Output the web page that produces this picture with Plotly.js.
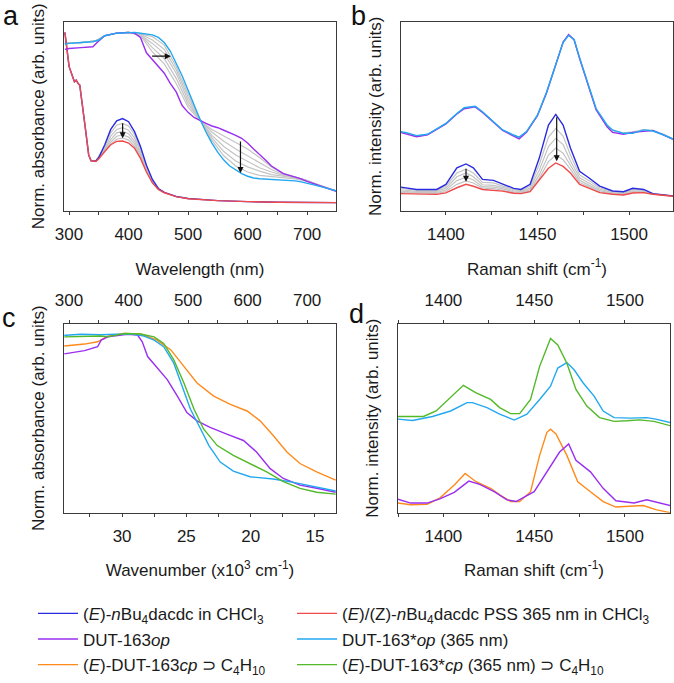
<!DOCTYPE html>
<html><head><meta charset="utf-8">
<script src="https://cdn.plot.ly/plotly-3.0.1.min.js"></script>
<style>html,body{margin:0;padding:0;background:#fff}</style>
</head><body><div id="chart" style="width:674px;height:683px"></div>
<script>
// ---------- Panel a : UV-vis, solution (lower) ----------
const wlSol = [293, 296, 300, 305, 309, 312, 315, 318, 322, 328, 333, 337, 345, 350, 360, 370, 380, 390, 400, 410, 420, 430, 440, 450, 460, 480, 500, 550, 600, 650, 750];
const absBlueA = [1.0, 0.90, 0.80, 0.75, 0.71, 0.72, 0.70, 0.69, 0.57, 0.42, 0.28, 0.246, 0.245, 0.265, 0.34, 0.43, 0.48, 0.494, 0.475, 0.417, 0.33, 0.22, 0.136, 0.083, 0.06, 0.036, 0.024, 0.012, 0.006, 0.002, 0.0];
const absRedA  = [1.0, 0.90, 0.80, 0.75, 0.71, 0.72, 0.70, 0.69, 0.57, 0.42, 0.28, 0.246, 0.242, 0.258, 0.30, 0.34, 0.36, 0.362, 0.35, 0.32, 0.26, 0.18, 0.116, 0.078, 0.058, 0.035, 0.023, 0.012, 0.006, 0.002, 0.0];
const wlSolGray = [345, 360, 370, 380, 390, 400, 410, 420, 430, 440, 450, 460];
const absSolGray = [
  [0.245, 0.33, 0.41, 0.455, 0.465, 0.45, 0.40, 0.315, 0.21, 0.13, 0.082, 0.06],
  [0.245, 0.32, 0.39, 0.43, 0.44, 0.425, 0.38, 0.30, 0.20, 0.127, 0.08, 0.06],
  [0.244, 0.315, 0.37, 0.41, 0.418, 0.405, 0.36, 0.29, 0.195, 0.123, 0.08, 0.059],
  [0.243, 0.31, 0.355, 0.39, 0.398, 0.385, 0.345, 0.28, 0.19, 0.12, 0.079, 0.059],
  [0.242, 0.305, 0.345, 0.372, 0.38, 0.367, 0.33, 0.27, 0.185, 0.118, 0.078, 0.058]
];
// ---------- Panel a : UV-vis, MOF (upper) ----------
const wlMof = [293, 300, 320, 340, 350, 360, 380, 400, 410, 420, 430, 440, 450, 460, 470, 480, 490, 500, 510, 520, 530, 540, 550, 560, 570, 580, 590, 600, 610, 620, 630, 640, 650, 660, 670, 680, 690, 700, 720, 740, 750];
const absPurpleA = [0.90, 0.905, 0.91, 0.915, 0.95, 0.98, 0.995, 1.0, 0.995, 0.97, 0.88, 0.84, 0.80, 0.76, 0.70, 0.65, 0.57, 0.53, 0.50, 0.48, 0.465, 0.45, 0.44, 0.425, 0.412, 0.395, 0.378, 0.35, 0.315, 0.285, 0.25, 0.215, 0.19, 0.17, 0.16, 0.15, 0.14, 0.125, 0.10, 0.078, 0.065];
const absCyanA = [0.93, 0.935, 0.94, 0.945, 0.955, 0.98, 0.995, 1.0, 1.0, 0.995, 0.99, 0.985, 0.97, 0.94, 0.89, 0.82, 0.745, 0.66, 0.57, 0.49, 0.415, 0.35, 0.295, 0.25, 0.215, 0.19, 0.17, 0.155, 0.145, 0.14, 0.138, 0.137, 0.135, 0.133, 0.13, 0.128, 0.122, 0.115, 0.097, 0.078, 0.068];
const wlMofGray = [293, 320, 345, 360, 380, 400, 420, 440, 460, 480, 500, 520, 540, 560, 580, 600, 620, 640, 660, 680, 700, 720, 750];
const absMofGray = [
  [0.935, 0.94, 0.95, 0.98, 0.995, 1.0, 0.99, 0.975, 0.925, 0.80, 0.64, 0.49, 0.365, 0.275, 0.215, 0.18, 0.16, 0.152, 0.148, 0.14, 0.125, 0.10, 0.068],
  [0.935, 0.94, 0.95, 0.98, 0.995, 1.0, 0.99, 0.955, 0.90, 0.78, 0.62, 0.49, 0.38, 0.30, 0.245, 0.21, 0.185, 0.165, 0.155, 0.145, 0.128, 0.102, 0.068],
  [0.935, 0.94, 0.95, 0.98, 0.995, 1.0, 0.985, 0.935, 0.875, 0.76, 0.60, 0.485, 0.395, 0.33, 0.28, 0.24, 0.205, 0.18, 0.16, 0.148, 0.13, 0.103, 0.068],
  [0.935, 0.94, 0.95, 0.98, 0.995, 1.0, 0.985, 0.91, 0.845, 0.73, 0.58, 0.485, 0.415, 0.36, 0.315, 0.275, 0.235, 0.195, 0.165, 0.15, 0.13, 0.103, 0.068],
  [0.935, 0.94, 0.95, 0.98, 0.995, 1.0, 0.98, 0.885, 0.815, 0.70, 0.56, 0.48, 0.43, 0.39, 0.35, 0.315, 0.265, 0.21, 0.172, 0.152, 0.13, 0.103, 0.068]
];
// ---------- Panel b : Raman, MOF (upper) ----------
const ramMof = [1375, 1379, 1384, 1390, 1395, 1400, 1406, 1410, 1416, 1420, 1426, 1431, 1437, 1440, 1444, 1450, 1455, 1460, 1464, 1467, 1470, 1473, 1478, 1482, 1488, 1491, 1497, 1502, 1508, 1513, 1519, 1524];
const intCyanB = [0.419, 0.412, 0.398, 0.405, 0.433, 0.462, 0.515, 0.545, 0.553, 0.524, 0.471, 0.428, 0.401, 0.39, 0.419, 0.506, 0.628, 0.768, 0.89, 0.928, 0.906, 0.81, 0.663, 0.541, 0.454, 0.428, 0.41, 0.41, 0.428, 0.422, 0.401, 0.38];
const intPurpleB = [0.415, 0.405, 0.392, 0.402, 0.43, 0.46, 0.512, 0.54, 0.55, 0.52, 0.468, 0.425, 0.395, 0.38, 0.415, 0.503, 0.625, 0.77, 0.893, 0.932, 0.905, 0.805, 0.66, 0.535, 0.445, 0.415, 0.405, 0.415, 0.42, 0.425, 0.4, 0.378];
const intGrayMofB = [0.417, 0.41, 0.396, 0.404, 0.432, 0.461, 0.514, 0.543, 0.551, 0.522, 0.47, 0.427, 0.399, 0.386, 0.417, 0.505, 0.627, 0.769, 0.891, 0.93, 0.905, 0.808, 0.662, 0.538, 0.45, 0.422, 0.412, 0.418, 0.43, 0.426, 0.405, 0.382];
// ---------- Panel b : Raman, solution (lower) ----------
const ramSol = [1375, 1384, 1395, 1400, 1406, 1411, 1415, 1420, 1426, 1431, 1437, 1441, 1446, 1451, 1456, 1460, 1464, 1468, 1473, 1478, 1484, 1491, 1497, 1502, 1508, 1513, 1524];
const intBlueB = [0.126, 0.113, 0.113, 0.14, 0.227, 0.248, 0.227, 0.166, 0.161, 0.143, 0.119, 0.113, 0.14, 0.279, 0.454, 0.51, 0.454, 0.332, 0.209, 0.175, 0.131, 0.105, 0.101, 0.119, 0.113, 0.091, 0.079];
const intRedB = [0.091, 0.089, 0.087, 0.095, 0.122, 0.14, 0.13, 0.113, 0.11, 0.104, 0.093, 0.091, 0.101, 0.16, 0.225, 0.253, 0.235, 0.2, 0.14, 0.12, 0.096, 0.088, 0.084, 0.094, 0.096, 0.088, 0.077];
const intSolGrayB = [
  [0.12, 0.108, 0.108, 0.13, 0.2, 0.22, 0.2, 0.15, 0.148, 0.133, 0.112, 0.107, 0.13, 0.245, 0.39, 0.436, 0.395, 0.295, 0.19, 0.16, 0.122, 0.1, 0.096, 0.112, 0.108, 0.09, 0.078],
  [0.112, 0.103, 0.103, 0.12, 0.18, 0.2, 0.18, 0.138, 0.135, 0.124, 0.106, 0.102, 0.12, 0.215, 0.34, 0.384, 0.35, 0.265, 0.175, 0.148, 0.114, 0.097, 0.092, 0.106, 0.104, 0.09, 0.078],
  [0.104, 0.098, 0.097, 0.11, 0.16, 0.178, 0.163, 0.128, 0.125, 0.116, 0.1, 0.098, 0.112, 0.19, 0.295, 0.332, 0.305, 0.24, 0.162, 0.136, 0.107, 0.094, 0.089, 0.101, 0.1, 0.089, 0.077],
  [0.097, 0.093, 0.092, 0.102, 0.14, 0.158, 0.147, 0.12, 0.117, 0.109, 0.096, 0.094, 0.105, 0.172, 0.26, 0.295, 0.27, 0.22, 0.15, 0.128, 0.101, 0.091, 0.086, 0.097, 0.098, 0.088, 0.077]
];
// ---------- Panel c : UV-vis of the four MOF phases ----------
const wlCyanC = [292, 295, 320, 353, 380, 409, 426, 443, 459, 476, 490, 504, 521, 535, 554, 576, 604, 643, 671, 699, 727, 748];
const absCyanC = [0.939, 0.939, 0.944, 0.941, 0.944, 0.944, 0.934, 0.913, 0.878, 0.791, 0.669, 0.547, 0.443, 0.355, 0.268, 0.22, 0.19, 0.178, 0.164, 0.146, 0.129, 0.115];
const wlGreenC = [292, 353, 365, 393, 420, 443, 459, 476, 493, 510, 526, 549, 576, 604, 632, 660, 688, 716, 748];
const absGreenC = [0.93, 0.935, 0.93, 0.948, 0.945, 0.93, 0.895, 0.808, 0.686, 0.547, 0.443, 0.355, 0.303, 0.26, 0.216, 0.164, 0.129, 0.108, 0.098];
const wlOrangeC = [292, 326, 348, 365, 393, 420, 448, 471, 493, 515, 543, 571, 599, 621, 643, 666, 688, 716, 748];
const absOrangeC = [0.882, 0.892, 0.904, 0.934, 0.948, 0.945, 0.913, 0.861, 0.774, 0.686, 0.617, 0.573, 0.538, 0.486, 0.408, 0.321, 0.26, 0.216, 0.172];
const wlPurpleC = [292, 326, 348, 354, 365, 398, 415, 423, 432, 448, 465, 482, 498, 515, 537, 565, 593, 615, 638, 660, 688, 716, 748];
const absPurpleC = [0.84, 0.857, 0.878, 0.913, 0.93, 0.944, 0.94, 0.904, 0.826, 0.765, 0.704, 0.617, 0.53, 0.486, 0.451, 0.416, 0.382, 0.321, 0.233, 0.181, 0.146, 0.129, 0.108];
// ---------- Panel d : Raman of the four MOF phases ----------
const ramGreenD = [1375, 1389, 1396, 1404, 1411, 1418, 1426, 1431, 1437, 1442, 1448, 1453, 1459, 1463, 1468, 1473, 1479, 1486, 1494, 1501, 1508, 1516, 1525];
const intGreenD = [0.509, 0.509, 0.538, 0.608, 0.674, 0.634, 0.599, 0.556, 0.524, 0.524, 0.599, 0.774, 0.922, 0.887, 0.791, 0.652, 0.564, 0.503, 0.483, 0.486, 0.491, 0.483, 0.46];
const ramCyanD = [1375, 1383, 1394, 1404, 1413, 1416, 1424, 1431, 1439, 1446, 1453, 1459, 1463, 1468, 1472, 1477, 1483, 1488, 1494, 1503, 1512, 1517, 1525];
const intCyanD = [0.495, 0.488, 0.509, 0.538, 0.582, 0.582, 0.556, 0.521, 0.49, 0.521, 0.599, 0.669, 0.765, 0.794, 0.756, 0.686, 0.617, 0.538, 0.503, 0.5, 0.503, 0.495, 0.477];
const ramOrangeD = [1375, 1382, 1391, 1398, 1406, 1412, 1418, 1426, 1431, 1437, 1442, 1448, 1453, 1457, 1459, 1462, 1468, 1474, 1481, 1488, 1495, 1505, 1510, 1517, 1525];
const intOrangeD = [0.051, 0.042, 0.045, 0.077, 0.146, 0.207, 0.164, 0.129, 0.094, 0.059, 0.059, 0.111, 0.303, 0.425, 0.442, 0.416, 0.303, 0.164, 0.111, 0.059, 0.03, 0.033, 0.038, 0.016, 0.0];
const ramPurpleD = [1375, 1382, 1391, 1398, 1406, 1414, 1420, 1428, 1435, 1440, 1450, 1457, 1464, 1469, 1473, 1481, 1488, 1495, 1505, 1512, 1517, 1525];
const intPurpleD = [0.071, 0.051, 0.051, 0.073, 0.108, 0.167, 0.15, 0.111, 0.068, 0.059, 0.111, 0.216, 0.321, 0.364, 0.277, 0.216, 0.129, 0.063, 0.051, 0.068, 0.055, 0.038];
// wavenumber ticks of the bottom axis of panel c (x10^3 cm^-1)
const wavenumberTicks = [30, 25, 20, 15];

// ---------- legend names & colours ----------
const names = {
  blue: '(<i>E</i>)-<i>n</i>Bu<sub>4</sub>dacdc in CHCl<sub>3</sub>',
  red: '(<i>E</i>)/(Z)-<i>n</i>Bu<sub>4</sub>dacdc PSS 365 nm in CHCl<sub>3</sub>',
  purple: 'DUT-163<i>op</i>',
  cyan: 'DUT-163*<i>op</i> (365 nm)',
  orange: '(<i>E</i>)-DUT-163<i>cp</i> \u2283 C<sub>4</sub>H<sub>10</sub>',
  green: '(<i>E</i>)-DUT-163*<i>cp</i> (365 nm) \u2283 C<sub>4</sub>H<sub>10</sub>'
};
const colors = {blue:'#2a2ae0', red:'#f04a4a', purple:'#9a2ff0', cyan:'#22a8f0', orange:'#ff8a1c', green:'#52b928', gray:'#c4c4c4'};
const FONT = 'Liberation Sans, Arial, Helvetica, sans-serif';
const TXT = '#1a1a1a';
const LW = 1.4;

const traces = [];
function add(x, y, xa, ya, key, opts) {
  opts = opts || {};
  traces.push(Object.assign({
    type: 'scatter', mode: 'lines', x: x, y: y, xaxis: xa, yaxis: ya,
    line: {color: colors[key], width: key === 'gray' ? 1.2 : LW},
    name: names[key] || '', showlegend: false, hoverinfo: 'skip'
  }, opts));
}
// panel a
absSolGray.forEach(g => add(wlSolGray, g, 'x', 'y', 'gray'));
absMofGray.forEach(g => add(wlMofGray, g, 'x', 'y', 'gray'));
add(wlSol, absBlueA, 'x', 'y', 'blue', {showlegend: true, legend: 'legend', legendgroup: 'g1'});
add(wlSol, absRedA, 'x', 'y', 'red', {showlegend: true, legend: 'legend2', legendgroup: 'g2'});
add(wlMof, absPurpleA, 'x', 'y', 'purple', {showlegend: true, legend: 'legend', legendgroup: 'g3'});
add(wlMof, absCyanA, 'x', 'y', 'cyan', {showlegend: true, legend: 'legend2', legendgroup: 'g4'});
// panel b
intSolGrayB.forEach(g => add(ramSol, g, 'x2', 'y2', 'gray'));
add(ramMof, intGrayMofB, 'x2', 'y2', 'gray');
add(ramSol, intBlueB, 'x2', 'y2', 'blue');
add(ramSol, intRedB, 'x2', 'y2', 'red');
add(ramMof, intPurpleB, 'x2', 'y2', 'purple');
add(ramMof, intCyanB, 'x2', 'y2', 'cyan');
// panel c
add(wlOrangeC, absOrangeC, 'x3', 'y3', 'orange', {showlegend: true, legend: 'legend', legendgroup: 'g5'});
add(wlPurpleC, absPurpleC, 'x3', 'y3', 'purple');
add(wlCyanC, absCyanC, 'x3', 'y3', 'cyan');
add(wlGreenC, absGreenC, 'x3', 'y3', 'green', {showlegend: true, legend: 'legend2', legendgroup: 'g6'});
traces.push({type:'scatter', mode:'none', x: wavenumberTicks, y: wavenumberTicks.map(() => null), xaxis:'x4', yaxis:'y3', showlegend:false, hoverinfo:'skip'});
// panel d
add(ramOrangeD, intOrangeD, 'x5', 'y4', 'orange');
add(ramPurpleD, intPurpleD, 'x5', 'y4', 'purple');
add(ramCyanD, intCyanD, 'x5', 'y4', 'cyan');
add(ramGreenD, intGreenD, 'x5', 'y4', 'green');
traces.push({type:'scatter', mode:'none', x: ramGreenD, y: ramGreenD.map(() => null), xaxis:'x6', yaxis:'y4', showlegend:false, hoverinfo:'skip'});

const W = 674, H = 683;
const dx = (l, r) => [l / W, r / W];
const dy = (t, b) => [1 - b / H, 1 - t / H];
const LINE = '#3a3a3a';
const tickF = {family: FONT, size: 17, color: TXT};
const titleF = {family: FONT, size: 17, color: TXT};
const TSO = 19;   // x title standoff
const YSO = 14;   // y title standoff
function xax(o) {
  return Object.assign({
    showline: true, linecolor: LINE, linewidth: 1, mirror: true,
    ticks: 'outside', ticklen: 3, tickcolor: LINE, tickwidth: 1,
    showgrid: false, zeroline: false, tickfont: tickF, fixedrange: true,
    ticklabelstandoff: 5
  }, o);
}
function yax(o) {
  return Object.assign({
    showline: true, linecolor: LINE, linewidth: 1, mirror: true,
    ticks: '', showticklabels: false, showgrid: false, zeroline: false, fixedrange: true
  }, o);
}
const arrow = (xa, ya, x, y, ax, ay) => ({
  xref: xa, yref: ya, axref: xa, ayref: ya, x: x, y: y, ax: ax, ay: ay,
  text: '', showarrow: true, arrowhead: 2, arrowsize: 1, arrowwidth: 1.2, arrowcolor: '#111'
});
const letter = (t, x, y) => ({xref:'paper', yref:'paper', x: x / W, y: 1 - y / H, text: t, showarrow: false,
  xanchor:'center', yanchor:'middle', font: {family: FONT, size: 27, color: '#111'}});

const layout = {
  width: W, height: H, margin: {l: 0, r: 0, t: 0, b: 0},
  paper_bgcolor: '#fff', plot_bgcolor: '#fff', font: {family: FONT, color: TXT},
  xaxis: xax({domain: dx(64, 336), anchor: 'y', range: [291.5, 748.5], dtick: 100, tick0: 0,
    minor: {dtick: 50, ticks: 'outside', ticklen: 3, tickcolor: LINE},
    title: {text: 'Wavelength (nm)', font: titleF, standoff: TSO}}),
  yaxis: yax({domain: dy(22, 213), anchor: 'x', range: [-0.048, 1.062],
    title: {text: 'Norm. absorbance (arb. units)', font: titleF, standoff: YSO}}),
  xaxis2: xax({domain: dx(401, 673), anchor: 'y2', range: [1375.5, 1524], dtick: 50, tick0: 0,
    minor: {dtick: 25, ticks: 'outside', ticklen: 3, tickcolor: LINE},
    title: {text: 'Raman shift (cm<sup>-1</sup>)', font: titleF, standoff: TSO}}),
  yaxis2: yax({domain: dy(22, 213), anchor: 'x2', range: [0, 1],
    title: {text: 'Norm. intensity (arb. units)', font: titleF, standoff: YSO}}),
  xaxis3: xax({domain: dx(64, 336), anchor: 'y3', side: 'top', range: [291.5, 748.5], dtick: 100, tick0: 0,
    mirror: false, ticklabelstandoff: 7, minor: {dtick: 50, ticks: 'outside', ticklen: 3, tickcolor: LINE}}),
  xaxis4: xax({overlaying: 'x3', anchor: 'y3', side: 'bottom', range: [34.52, 13.36], dtick: 5, tick0: 0,
    mirror: false, minor: {dtick: 2.5, ticks: 'outside', ticklen: 3, tickcolor: LINE},
    title: {text: 'Wavenumber (x10<sup>3</sup> cm<sup>-1</sup>)', font: titleF, standoff: TSO}}),
  yaxis3: yax({domain: dy(327, 518), anchor: 'x3', range: [0, 1],
    title: {text: 'Norm. absorbance (arb. units)', font: titleF, standoff: YSO}}),
  xaxis5: xax({domain: dx(398, 670), anchor: 'y4', side: 'bottom', range: [1375, 1524.8], dtick: 50, tick0: 0,
    mirror: false, minor: {dtick: 25, ticks: 'outside', ticklen: 3, tickcolor: LINE},
    title: {text: 'Raman shift (cm<sup>-1</sup>)', font: titleF, standoff: TSO}}),
  xaxis6: xax({overlaying: 'x5', anchor: 'y4', side: 'top', range: [1375, 1524.8], dtick: 50, tick0: 0,
    mirror: false, ticklabelstandoff: 7, minor: {dtick: 25, ticks: 'outside', ticklen: 3, tickcolor: LINE}}),
  yaxis4: yax({domain: dy(327, 518), anchor: 'x5', range: [0, 1],
    title: {text: 'Norm. intensity (arb. units)', font: titleF, standoff: YSO}}),
  legend: {x: 33 / W, y: 1 - 602 / H, xanchor: 'left', yanchor: 'top', orientation: 'v',
    font: {family: FONT, size: 17, color: TXT}, bgcolor: 'rgba(0,0,0,0)', itemwidth: 40, tracegroupgap: 0.5},
  legend2: {x: 292 / W, y: 1 - 602 / H, xanchor: 'left', yanchor: 'top', orientation: 'v',
    font: {family: FONT, size: 17, color: TXT}, bgcolor: 'rgba(0,0,0,0)', itemwidth: 40, tracegroupgap: 0.5},
  annotations: [
    arrow('x', 'y', 471, 0.86, 437, 0.86),
    arrow('x', 'y', 390, 0.378, 390, 0.475),
    arrow('x', 'y', 588, 0.174, 588, 0.368),
    arrow('x2', 'y2', 1460.5, 0.262, 1460.5, 0.503),
    arrow('x2', 'y2', 1411, 0.154, 1411, 0.23),
    letter('a', 11, 16), letter('b', 358, 16), letter('c', 9, 321), letter('d', 356, 317)
  ]
};
Plotly.newPlot('chart', traces, layout, {displayModeBar: false, staticPlot: true});
</script></body></html>
